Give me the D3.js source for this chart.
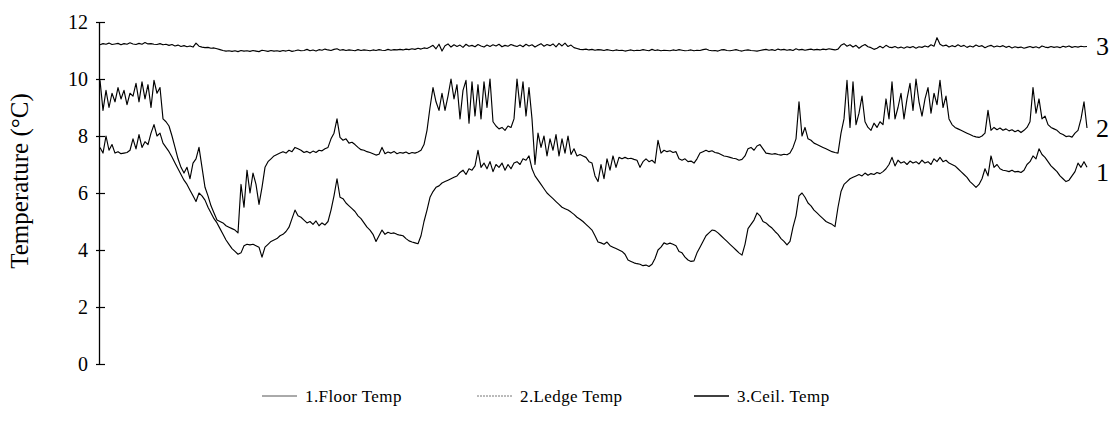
<!DOCTYPE html>
<html>
<head>
<meta charset="utf-8">
<script src="https://cdn.jsdelivr.net/npm/d3@7"></script>
<style>
  html, body { margin: 0; padding: 0; background: #fff; }
  svg { display: block; font-family: "Liberation Serif", "Times New Roman", serif; }
</style>
</head>
<body>
<svg id="chart" width="1113" height="421"></svg>
<script>
// Temperature axis ticks (°C)
const yTicks = [0, 2, 4, 6, 8, 10, 12];

// Legend entries and the short labels at the right end of each trace
const seriesNames = ["1.Floor Temp", "2.Ledge Temp", "3.Ceil. Temp"];
const endLabels = ["1", "2", "3"];

// Floor temperature record (°C), equally spaced samples
const floorTemp = [
  7.6,7.4,8.0,7.5,7.7,7.4,7.45,7.38,7.4,7.42,
  7.5,7.9,7.55,8.05,7.6,7.8,7.7,8.1,8.4,8.0,
  8.1,7.75,7.6,7.45,7.26,7.05,6.85,6.65,6.45,6.3,
  6.1,5.9,5.7,6.0,5.9,5.75,5.5,5.3,5.1,4.95,
  4.75,4.55,4.35,4.2,4.05,3.95,3.85,3.9,4.15,4.2,
  4.18,4.2,4.15,4.1,3.75,4.1,4.2,4.3,4.35,4.4,
  4.5,4.55,4.65,4.8,5.1,5.4,5.2,5.15,5.05,4.95,
  5.0,4.9,5.02,4.85,4.95,4.88,5.0,5.4,5.9,6.5,
  5.85,5.8,5.65,5.55,5.45,5.35,5.2,5.1,4.95,4.8,
  4.7,4.55,4.3,4.5,4.7,4.55,4.62,4.58,4.6,4.55,
  4.52,4.5,4.4,4.32,4.28,4.25,4.22,4.5,5.0,5.4,
  5.85,6.05,6.2,6.25,6.35,6.4,6.45,6.5,6.55,6.6,
  6.72,6.8,6.65,6.85,6.8,6.95,7.5,6.9,7.05,6.85,
  7.1,6.75,7.0,6.9,7.05,6.8,7.0,6.85,7.05,7.1,
  7.0,7.2,7.15,7.3,6.85,6.6,6.45,6.3,6.15,6.0,
  5.9,5.8,5.7,5.6,5.5,5.45,5.4,5.33,5.25,5.15,
  5.08,5.0,4.9,4.8,4.7,4.5,4.28,4.25,4.2,4.28,
  4.15,4.1,4.05,4.0,3.95,3.85,3.65,3.6,3.55,3.52,
  3.5,3.45,3.47,3.42,3.5,3.7,4.0,4.1,4.25,4.2,
  4.24,4.2,4.15,3.95,3.9,3.75,3.65,3.6,3.62,3.9,
  4.1,4.3,4.5,4.6,4.7,4.68,4.6,4.5,4.4,4.3,
  4.2,4.1,4.0,3.9,3.82,4.2,4.75,4.9,5.05,5.3,
  5.2,5.0,4.95,4.85,4.77,4.65,4.55,4.4,4.3,4.18,
  4.3,4.8,5.2,5.9,6.0,5.85,5.65,5.55,5.4,5.3,
  5.2,5.1,5.0,4.95,4.9,4.82,5.5,6.05,6.3,6.4,
  6.5,6.55,6.6,6.65,6.6,6.7,6.62,6.68,6.65,6.72,
  6.68,6.75,6.85,7.0,7.25,6.95,7.15,7.05,7.1,7.0,
  7.12,7.05,7.1,7.02,7.15,7.05,7.1,7.0,7.2,7.1,
  7.25,7.1,7.15,7.05,7.0,6.95,6.85,6.75,6.65,6.55,
  6.4,6.3,6.2,6.3,6.5,6.85,6.6,7.3,6.9,7.0,
  6.85,6.8,6.78,6.75,6.8,6.74,6.76,6.72,6.8,7.0,
  7.1,7.3,7.2,7.55,7.35,7.25,7.1,6.95,6.85,6.75,
  6.6,6.5,6.4,6.45,6.6,6.75,7.05,6.9,7.1,6.9
];

// Ledge temperature record (°C)
const ledgeTemp = [
  9.95,8.9,9.6,9.0,9.5,9.2,9.7,9.3,9.6,9.1,
  9.5,9.4,9.85,9.2,9.9,9.3,9.8,9.0,9.95,9.5,
  9.7,8.6,8.5,8.35,8.0,7.6,7.2,6.9,6.7,6.9,
  6.5,7.05,7.2,7.6,6.9,6.2,5.9,5.55,5.3,5.05,
  5.0,4.95,4.85,4.8,4.75,4.7,4.6,6.3,5.5,6.8,
  6.0,6.7,6.3,5.6,6.2,6.9,7.1,7.2,7.3,7.35,
  7.4,7.45,7.4,7.5,7.45,7.6,7.55,7.5,7.42,7.46,
  7.4,7.47,7.42,7.5,7.48,7.55,7.6,7.9,8.1,8.6,
  7.95,7.85,7.9,7.75,7.78,7.7,7.6,7.52,7.5,7.45,
  7.42,7.38,7.33,7.36,7.6,7.38,7.44,7.4,7.46,7.38,
  7.42,7.4,7.44,7.38,7.42,7.4,7.44,7.5,7.7,8.2,
  9.0,9.7,9.2,8.9,9.5,8.9,9.4,10.0,9.3,9.8,
  8.6,9.6,9.95,8.45,9.9,8.7,9.8,8.6,9.9,9.0,
  10.0,8.5,8.35,8.25,8.3,8.2,8.35,8.3,8.6,10.0,
  9.0,9.9,8.7,9.7,8.6,7.0,8.1,7.6,8.0,7.3,
  7.9,7.5,8.05,7.3,7.9,7.4,8.0,7.35,7.55,7.3,
  7.35,7.3,7.25,7.1,7.05,6.6,6.4,7.0,6.5,7.2,
  6.8,7.3,6.9,7.25,7.2,7.25,7.2,7.22,7.18,7.15,
  6.9,7.1,7.2,7.1,7.15,7.05,7.85,7.4,7.5,7.45,
  7.48,7.42,7.45,7.2,7.15,7.2,7.1,7.12,7.05,7.2,
  7.4,7.45,7.5,7.45,7.48,7.42,7.4,7.35,7.3,7.28,
  7.25,7.22,7.2,7.15,7.18,7.3,7.55,7.6,7.5,7.65,
  7.7,7.55,7.4,7.38,7.36,7.38,7.35,7.33,7.36,7.34,
  7.4,7.6,7.9,9.2,8.0,8.3,7.9,7.85,7.75,7.7,
  7.65,7.6,7.55,7.5,7.45,7.42,7.4,8.1,8.6,9.95,
  8.3,9.9,8.4,8.8,9.4,8.5,8.3,8.2,8.45,8.3,
  8.5,8.4,9.3,8.6,9.9,8.6,9.0,9.5,8.6,9.3,
  9.85,8.9,10.0,9.2,8.7,9.3,9.7,8.8,9.5,9.1,
  9.95,9.0,9.4,8.6,8.4,8.3,8.25,8.2,8.15,8.1,
  8.05,8.0,7.97,7.95,8.0,8.1,8.9,8.2,8.3,8.22,
  8.28,8.2,8.25,8.18,8.22,8.15,8.2,8.12,8.2,8.3,
  8.5,9.7,8.8,9.3,8.6,8.7,8.4,8.3,8.25,8.2,
  8.1,8.05,7.98,8.0,7.96,8.1,8.2,8.6,9.2,8.28
];

// Ceiling temperature record (°C)
const ceilTemp = [
  11.20,11.24,11.22,11.26,11.21,11.23,11.25,11.20,11.24,11.22,
  11.27,11.23,11.21,11.25,11.22,11.28,11.23,11.24,11.22,11.21,
  11.24,11.20,11.22,11.18,11.21,11.16,11.19,11.14,11.17,11.13,
  11.16,11.12,11.26,11.15,11.12,11.10,11.11,11.08,11.09,11.06,
  11.03,11.00,10.98,10.99,10.97,10.99,10.96,11.00,10.98,10.99,
  10.97,11.00,10.98,10.96,11.01,10.99,10.97,11.00,10.98,10.99,
  10.97,11.00,10.98,11.01,10.97,10.99,11.02,10.99,11.00,11.04,
  10.99,11.02,10.98,11.03,11.01,11.05,11.02,11.00,11.04,11.06,
  11.01,11.03,11.00,11.02,11.01,10.99,11.03,11.00,11.02,11.01,
  10.99,11.02,11.00,11.03,11.01,11.00,11.04,11.01,11.03,11.02,
  11.04,11.02,11.05,11.03,11.06,11.04,11.08,11.05,11.09,11.07,
  11.12,11.18,11.06,11.22,10.98,11.17,11.23,11.12,11.20,11.14,
  11.19,11.11,11.22,11.15,11.18,11.13,11.21,11.16,11.12,11.19,
  11.14,11.20,11.16,11.22,11.13,11.18,11.15,11.21,11.17,11.14,
  11.19,11.13,11.22,11.16,11.20,11.12,11.18,11.24,11.15,11.21,
  11.17,11.23,11.13,11.25,11.16,11.26,11.14,11.19,11.10,11.07,
  11.04,11.03,11.05,11.02,11.04,11.01,11.03,11.02,11.00,11.03,
  11.01,10.99,11.02,11.00,11.01,10.98,11.00,11.02,10.99,11.01,
  11.00,11.03,11.01,10.99,11.04,11.00,11.02,10.99,11.01,11.00,
  10.99,11.02,11.00,11.03,11.01,10.99,11.00,11.02,10.99,11.01,
  11.00,11.03,11.05,11.01,10.99,11.00,10.98,11.02,11.03,11.00,
  10.99,11.01,11.03,11.00,10.98,11.01,11.02,11.00,10.99,10.98,
  11.00,11.02,11.04,11.01,11.03,11.00,11.05,11.02,11.04,11.01,
  11.03,11.00,11.06,11.02,11.04,11.01,11.03,11.05,11.02,11.04,
  11.02,11.05,11.03,11.06,11.04,11.02,11.05,11.18,11.24,11.15,
  11.20,11.12,11.18,11.08,11.16,11.21,11.13,11.10,11.04,11.08,
  11.15,11.09,11.18,11.12,11.10,11.14,11.09,11.12,11.08,11.13,
  11.10,11.14,11.08,11.13,11.11,11.16,11.12,11.20,11.15,11.45,
  11.22,11.16,11.19,11.12,11.17,11.13,11.20,11.14,11.18,11.11,
  11.16,11.12,11.19,11.14,11.17,11.10,11.15,11.18,11.12,11.16,
  11.13,11.17,11.11,11.15,11.09,11.13,11.10,11.12,11.08,11.11,
  11.14,11.10,11.13,11.09,11.16,11.12,11.10,11.14,11.11,11.13,
  11.10,11.15,11.12,11.16,11.11,11.14,11.12,11.15,11.13,11.14
];

const series = [floorTemp, ledgeTemp, ceilTemp];
const svg = d3.select("#chart");

// Scales: sample index across the plot, temperature up the axis
const x = d3.scaleLinear().domain([0, floorTemp.length - 1]).range([100, 1087]);
const y = d3.scaleLinear().domain([0, 12]).range([364, 22]);

// Vertical temperature axis with ticks crossing the axis line
const axisX = 99;
const gAxis = svg.append("g")
  .attr("transform", `translate(${axisX},0)`)
  .call(d3.axisLeft(y).tickValues(yTicks).tickSize(3).tickSizeOuter(0).tickPadding(8));
gAxis.select(".domain").attr("stroke", "#000").attr("stroke-width", 1.3);
gAxis.selectAll(".tick line").attr("x1", 6).attr("stroke", "#000").attr("stroke-width", 1.2);
gAxis.selectAll(".tick text")
  .attr("fill", "#000")
  .style("font-family", '"Liberation Serif", serif')
  .style("font-size", "20px");

// Axis title
svg.append("text")
  .attr("transform", `translate(28,181) rotate(-90)`)
  .attr("text-anchor", "middle")
  .style("font-size", "25px")
  .attr("fill", "#000")
  .text("Temperature (\u00B0C)");

// Traces
const line = d3.line().x((d, i) => x(i)).y(d => y(d));
svg.append("g").selectAll("path")
  .data(series)
  .join("path")
  .attr("d", line)
  .attr("fill", "none")
  .attr("stroke", "#000")
  .attr("stroke-width", 1.15)
  .attr("stroke-linejoin", "round");

// Numbers at the right end of each trace
const endNudge = [5, 0, 0];
svg.append("g").selectAll("text")
  .data(series)
  .join("text")
  .attr("x", x(floorTemp.length - 1) + 9)
  .attr("y", (d, i) => y(d[d.length - 1]) + endNudge[i])
  .attr("dy", "0.34em")
  .style("font-size", "26px")
  .attr("fill", "#000")
  .text((d, i) => endLabels[i]);

// Legend along the bottom
const legendY = 396;
const legendX = [262, 477, 694];
const legendStroke = [
  { color: "#555", width: 1, dash: null },
  { color: "#777", width: 1, dash: "2,1" },
  { color: "#000", width: 1.3, dash: null }
];
const lg = svg.append("g").selectAll("g")
  .data(seriesNames)
  .join("g")
  .attr("transform", (d, i) => `translate(${legendX[i]},${legendY})`);
lg.append("line")
  .attr("x1", 0).attr("x2", 35).attr("y1", 0).attr("y2", 0)
  .attr("stroke", (d, i) => legendStroke[i].color)
  .attr("stroke-width", (d, i) => legendStroke[i].width)
  .attr("stroke-dasharray", (d, i) => legendStroke[i].dash);
lg.append("text")
  .attr("x", 43)
  .attr("dy", "0.35em")
  .style("font-size", "17px")
  .style("letter-spacing", "0.4px")
  .attr("fill", "#000")
  .text(d => d);
</script>
</body>
</html>
